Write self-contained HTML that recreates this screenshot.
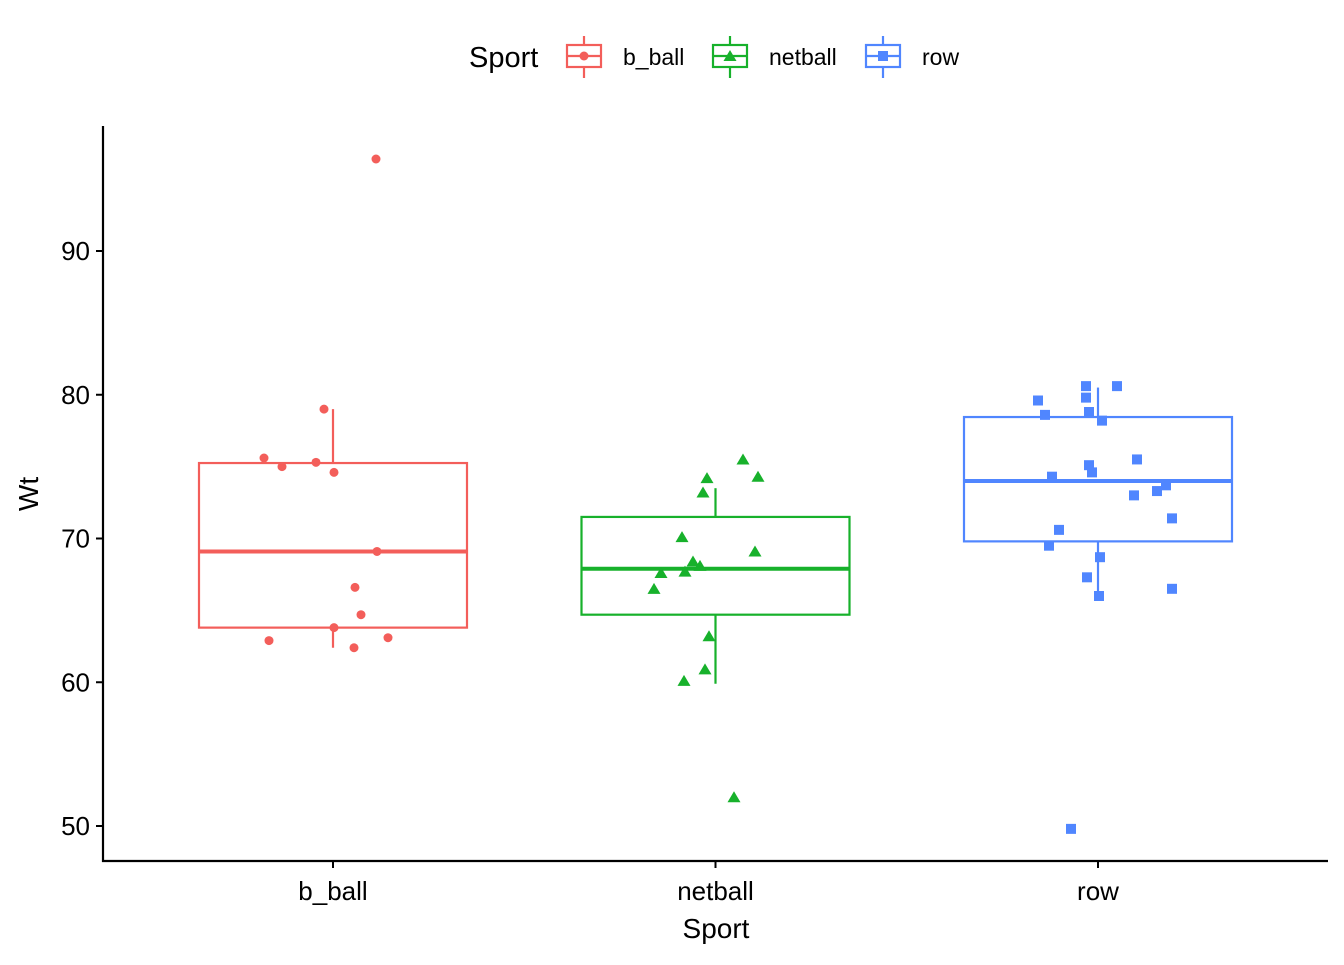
<!DOCTYPE html>
<html><head><meta charset="utf-8"><style>
body{margin:0;background:#fff;}
svg text{font-family:"Liberation Sans",Arial,sans-serif;}
</style></head><body>
<svg id="chart" width="1344" height="960" xmlns="http://www.w3.org/2000/svg">
<g id="legend">
<text x="469" y="67" font-size="29" fill="#000">Sport</text>
</g>
<g id="plot"></g>
</svg>
<script>
const categories=["b_ball","netball","row"];
const colors=["#F35E5A","#17B12B","#5086FF"];
const q1=[63.8,64.7,69.8];
const med=[69.1,67.9,74.0];
const q3=[75.25,71.5,78.45];
const wLo=[62.4,59.9,66.0];
const wHi=[79.0,73.5,80.5];
const ballPts=[[376,96.4],[324,79.0],[264,75.6],[282,75.0],[316,75.3],[334,74.6],[377,69.1],[355,66.6],[361,64.7],[334,63.8],[269,62.9],[388,63.1],[354,62.4]];
const netPts=[[743,75.5],[707,74.2],[758,74.3],[703,73.2],[682,70.1],[755,69.1],[693,68.4],[700,68.1],[685,67.7],[661,67.6],[654,66.5],[709,63.2],[705,60.9],[684,60.1],[734,52.0]];
const rowPts=[[1086,80.6],[1117,80.6],[1038,79.6],[1086,79.8],[1089,78.8],[1045,78.6],[1102,78.2],[1137,75.5],[1089,75.1],[1092,74.6],[1052,74.3],[1166,73.7],[1157,73.3],[1134,73.0],[1172,71.4],[1059,70.6],[1049,69.5],[1100,68.7],[1087,67.3],[1099,66.0],[1172,66.5],[1071,49.8]];
const yTicks=[50,60,70,80,90];
const NS="http://www.w3.org/2000/svg";
const y=v=>826-(v-50)*14.375;
const xc=i=>333+i*382.5;
const g=document.getElementById('plot');
function mk(t,a){const e=document.createElementNS(NS,t);for(const k in a)e.setAttribute(k,a[k]);g.appendChild(e);return e;}
let ax=mk('line',{x1:103,y1:126,x2:103,y2:862,stroke:'#000','stroke-width':2.2});


ax=mk('line',{x1:102,y1:861,x2:1328,y2:861,stroke:'#000','stroke-width':2.2});


yTicks.forEach(v=>{
 mk('line',{x1:96,x2:103,y1:y(v),y2:y(v),stroke:'#000','stroke-width':2});
 const t=mk('text',{x:90,y:y(v)+9,'font-size':26,'text-anchor':'end',fill:'#000'});t.textContent=v;
 
 
});
categories.forEach((c,i)=>{
 const x=xc(i);
 mk('line',{x1:x,x2:x,y1:861,y2:868,stroke:'#000','stroke-width':2});
 const t=mk('text',{x:x,y:900,'font-size':26,'text-anchor':'middle',fill:'#000'});t.textContent=c;
 
 
 const col=colors[i];
 mk('line',{x1:x,x2:x,y1:y(wHi[i]),y2:y(q3[i]),stroke:col,'stroke-width':2.2});
 mk('line',{x1:x,x2:x,y1:y(q1[i]),y2:y(wLo[i]),stroke:col,'stroke-width':2.2});
 const b=mk('rect',{x:x-134,width:268,y:y(q3[i]),height:y(q1[i])-y(q3[i]),fill:'none',stroke:col,'stroke-width':2.2});
 
 
 mk('line',{x1:x-134,x2:x+134,y1:y(med[i]),y2:y(med[i]),stroke:col,'stroke-width':4});
});
function shape(kind,x,yy,col){
 let e;
 if(kind==0)e=mk('circle',{cx:x,cy:yy,r:4.5,fill:col});
 else if(kind==1)e=mk('polygon',{points:`${x},${yy-6} ${x-6.5},${yy+5} ${x+6.5},${yy+5}`,fill:col});
 else e=mk('rect',{x:x-5,y:yy-5,width:10,height:10,fill:col});
 return e;
}
[ballPts,netPts,rowPts].forEach((pts,i)=>pts.forEach(p=>{
 const e=shape(i,p[0],y(p[1]),colors[i]);
 
 
}));
let t=mk('text',{x:716,y:938,'font-size':28,'text-anchor':'middle',fill:'#000'});t.textContent='Sport';


t=mk('text',{x:0,y:0,'font-size':28,'text-anchor':'middle',fill:'#000',transform:'translate(38,494) rotate(-90)'});t.textContent='Wt';


const lx=[584,730,883];
categories.forEach((c,i)=>{
 const x=lx[i],col=colors[i];
 mk('line',{x1:x,x2:x,y1:36,y2:78,stroke:col,'stroke-width':2.2});
 mk('rect',{x:x-17,y:45,width:34,height:22,fill:'#fff',stroke:col,'stroke-width':2.2});
 mk('line',{x1:x-17,x2:x+17,y1:56,y2:56,stroke:col,'stroke-width':2.2});
 shape(i,x,56,col);
 const tt=mk('text',{x:x+39,y:65,'font-size':23,fill:'#000'});tt.textContent=c;
 
 
});
</script>
</body></html>
